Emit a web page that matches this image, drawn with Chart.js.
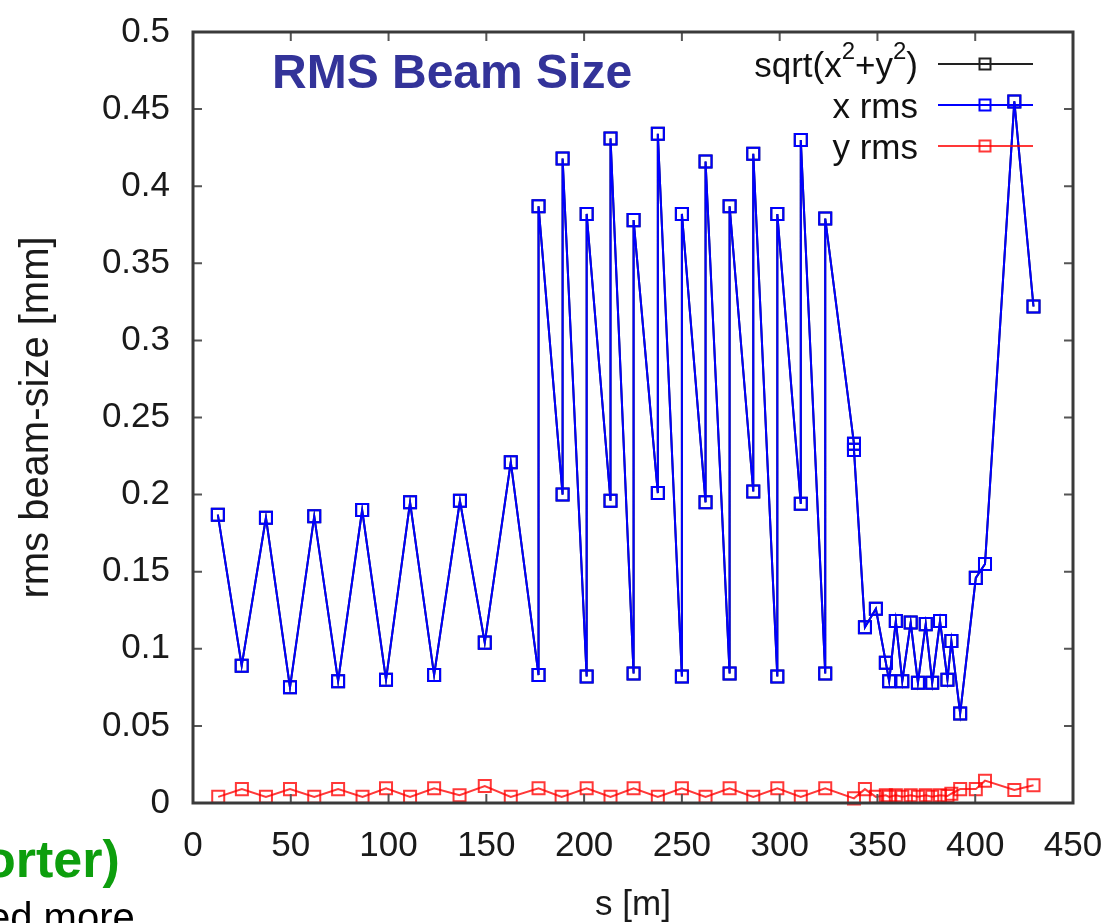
<!DOCTYPE html>
<html>
<head>
<meta charset="utf-8">
<title>RMS Beam Size</title>
<script src="https://cdn.jsdelivr.net/npm/chart.js@4.4.1/dist/chart.umd.min.js"></script>
<style>
  body { margin: 0; background: #fff; overflow: hidden; }
  #wrap { position: relative; width: 1110px; height: 923px; overflow: hidden; }
  #green { position: absolute; left: -16px; top: 833px; font: bold 52px/52px "Liberation Sans", Arial, sans-serif; color: #0d9e0d; white-space: nowrap; }
  #more { position: absolute; left: -12px; top: 897px; font: 40px/40px "Liberation Sans", Arial, sans-serif; color: #000; white-space: nowrap; }
</style>
</head>
<body>
<div id="wrap">
  <canvas id="chart" width="1110" height="923"></canvas>
  <div id="green">orter)</div>
  <div id="more">ed more</div>
</div>
<script>
/* values */
const xS = [12.7, 24.9, 37.3, 49.6, 62.0, 74.2, 86.5, 98.7, 111.0, 123.3, 136.5, 149.2, 162.5,
	176.7, 176.7, 189.0, 189.0, 201.3, 201.3, 213.5, 213.5, 225.3, 225.3, 237.7, 237.7,
	250.0, 250.0, 262.1, 262.1, 274.4, 274.4, 286.5, 286.5, 298.8, 298.8, 310.8, 310.8,
	323.3, 323.3, 338.0, 338.0, 343.6, 349.2, 354.3, 356.0, 359.4, 362.7, 367.0, 370.7,
	374.7, 378.0, 382.0, 385.8, 387.8, 392.3, 400.3, 405.0, 420.0, 429.8]
const xRms = [0.187, 0.089, 0.185, 0.075, 0.186, 0.079, 0.190, 0.080, 0.195, 0.083, 0.196, 0.104, 0.221,
	0.083, 0.387, 0.200, 0.418, 0.082, 0.382, 0.196, 0.431, 0.084, 0.378, 0.201, 0.434,
	0.082, 0.382, 0.195, 0.416, 0.084, 0.387, 0.202, 0.421, 0.082, 0.382, 0.194, 0.430,
	0.084, 0.379, 0.233, 0.229, 0.114, 0.126, 0.091, 0.079, 0.118, 0.079, 0.117, 0.078,
	0.116, 0.078, 0.118, 0.080, 0.105, 0.058, 0.146, 0.155, 0.455, 0.322]
// sqrt(x^2+y^2) sits right under the x rms curve (y rms is tiny), same readings
const sqS = xS
const sqRms = xRms

const yS = [12.9, 25.0, 37.3, 49.6, 62.0, 74.2, 86.7, 98.7, 111.0, 123.3, 136.3, 149.2, 162.5,
	176.7, 188.5, 201.3, 213.5, 225.3, 237.7, 250.0, 262.1, 274.4, 286.5, 298.8, 310.8,
	323.3, 338.0, 343.6, 349.2, 354.3, 356.0, 359.4, 362.7, 367.0, 370.7, 374.7, 378.0,
	382.0, 385.8, 387.8, 392.3, 400.3, 405.0, 420.0, 429.8]
const yRms = [0.004, 0.009, 0.004, 0.009, 0.004, 0.009, 0.004, 0.0095, 0.004, 0.0095, 0.005, 0.011, 0.004,
	0.0095, 0.004, 0.0095, 0.004, 0.0095, 0.004, 0.0095, 0.004, 0.0095, 0.004, 0.0095, 0.004,
	0.0095, 0.003, 0.009, 0.004, 0.005, 0.004, 0.005, 0.004, 0.005, 0.004, 0.005, 0.004,
	0.005, 0.0045, 0.006, 0.009, 0.009, 0.0145, 0.0085, 0.0115]

const xTickLabels = ['0', '50', '100', '150', '200', '250', '300', '350', '400', '450']
const yTickLabels = ['0', '0.05', '0.1', '0.15', '0.2', '0.25', '0.3', '0.35', '0.4', '0.45', '0.5']
const seriesNames = ['sqrt(x²+y²)', 'x rms', 'y rms']
const chartTitle = 'RMS Beam Size'

const FONT = '"Liberation Sans", Arial, sans-serif'

const pts = (s, v) => s.map((x, i) => ({ x: x, y: v[i] }))

/* frame, inward ticks, title and legend, drawn the gnuplot way */
const gnuplotBits = {
	id: 'gnuplotBits',
	afterDatasetsDraw(chart) {
		const { ctx, chartArea: a, scales: { x, y } } = chart
		ctx.save()
		ctx.strokeStyle = '#555'
		ctx.lineWidth = 2
		ctx.beginPath()
		x.ticks.forEach((t) => {
			const px = x.getPixelForValue(t.value)
			ctx.moveTo(px, a.bottom); ctx.lineTo(px, a.bottom - 9)
			ctx.moveTo(px, a.top); ctx.lineTo(px, a.top + 9)
		})
		y.ticks.forEach((t) => {
			const py = y.getPixelForValue(t.value)
			ctx.moveTo(a.left, py); ctx.lineTo(a.left + 9, py)
			ctx.moveTo(a.right, py); ctx.lineTo(a.right - 9, py)
		})
		ctx.stroke()
		ctx.strokeStyle = '#3a3a3a'
		ctx.lineWidth = 3
		ctx.strokeRect(a.left, a.top, a.right - a.left, a.bottom - a.top)

		// title
		ctx.fillStyle = '#333399'
		ctx.font = 'bold 48px ' + FONT
		ctx.textAlign = 'left'
		ctx.textBaseline = 'alphabetic'
		ctx.fillText(chartTitle, a.left + 79, a.top + 56)

		// legend
		const textRight = a.right - 155
		chart.data.datasets.forEach((ds, i) => {
			const rowY = a.top + 32 + i * 41
			const base = rowY + 13
			ctx.fillStyle = '#111'
			ctx.textAlign = 'left'
			// split superscript twos
			const parts = ds.label.split(/(²)/).filter((p) => p !== '')
			const big = '35px ' + FONT
			const small = '24px ' + FONT
			let w = 0
			parts.forEach((p) => { ctx.font = p === '²' ? small : big; w += ctx.measureText(p === '²' ? '2' : p).width })
			let cx = textRight - w
			parts.forEach((p) => {
				if (p === '²') {
					ctx.font = small
					ctx.fillText('2', cx, base - 18)
					cx += ctx.measureText('2').width
				} else {
					ctx.font = big
					ctx.fillText(p, cx, base)
					cx += ctx.measureText(p).width
				}
			})
			ctx.strokeStyle = ds.borderColor
			ctx.lineWidth = 2
			ctx.beginPath()
			ctx.moveTo(a.right - 135, rowY)
			ctx.lineTo(a.right - 40, rowY)
			ctx.stroke()
			ctx.strokeRect(a.right - 93.5, rowY - 5.5, 11, 11)
		})
		ctx.restore()
	}
}

const lineSet = (label, data, color, order) => ({
	label: label,
	data: data,
	borderColor: color,
	borderWidth: 2,
	pointStyle: 'rect',
	pointRadius: 8.5,
	pointBorderWidth: 2,
	pointBorderColor: color,
	pointBackgroundColor: 'rgba(0,0,0,0)',
	tension: 0,
	clip: 12,
	order: order
})

new Chart(document.getElementById('chart'), {
	type: 'line',
	data: {
		datasets: [
			lineSet(seriesNames[0], pts(sqS, sqRms), '#222222', 2),
			lineSet(seriesNames[1], pts(xS, xRms), '#0000ff', 1),
			lineSet(seriesNames[2], pts(yS, yRms), 'rgba(255,0,0,0.78)', 0)
		]
	},
	options: {
		responsive: false,
		animation: false,
		devicePixelRatio: 1,
		layout: { padding: { top: 32, right: 37, left: 0, bottom: 0 } },
		plugins: { legend: { display: false }, tooltip: { enabled: false } },
		scales: {
			x: {
				type: 'linear',
				min: 0,
				max: 450,
				grid: { display: false, drawTicks: false },
				border: { display: false },
				ticks: {
					stepSize: 50,
					padding: 26,
					color: '#1a1a1a',
					font: { family: FONT, size: 35, lineHeight: 1 },
					maxRotation: 0,
					callback: (v, i) => xTickLabels[i]
				},
				title: {
					display: true,
					text: 's [m]',
					color: '#1a1a1a',
					font: { family: FONT, size: 35, lineHeight: 1 },
					padding: { top: 0, bottom: 0 }
				},
				afterFit: (s) => { s.height = 120; s.paddingLeft = 0; s.paddingRight = 0 }
			},
			y: {
				min: 0,
				max: 0.5,
				grid: { display: false, drawTicks: false },
				border: { display: false },
				ticks: {
					stepSize: 0.05,
					padding: 23,
					color: '#1a1a1a',
					font: { family: FONT, size: 35, lineHeight: 1 },
					callback: (v, i) => yTickLabels[i]
				},
				title: {
					display: true,
					text: 'rms beam-size [mm]',
					color: '#1a1a1a',
					font: { family: FONT, size: 40, lineHeight: 1 },
					padding: { top: 17, bottom: 0 }
				},
				afterFit: (s) => { s.width = 193; s.paddingTop = 0; s.paddingBottom = 0 }
			}
		}
	},
	plugins: [gnuplotBits]
})
</script>
</body>
</html>
